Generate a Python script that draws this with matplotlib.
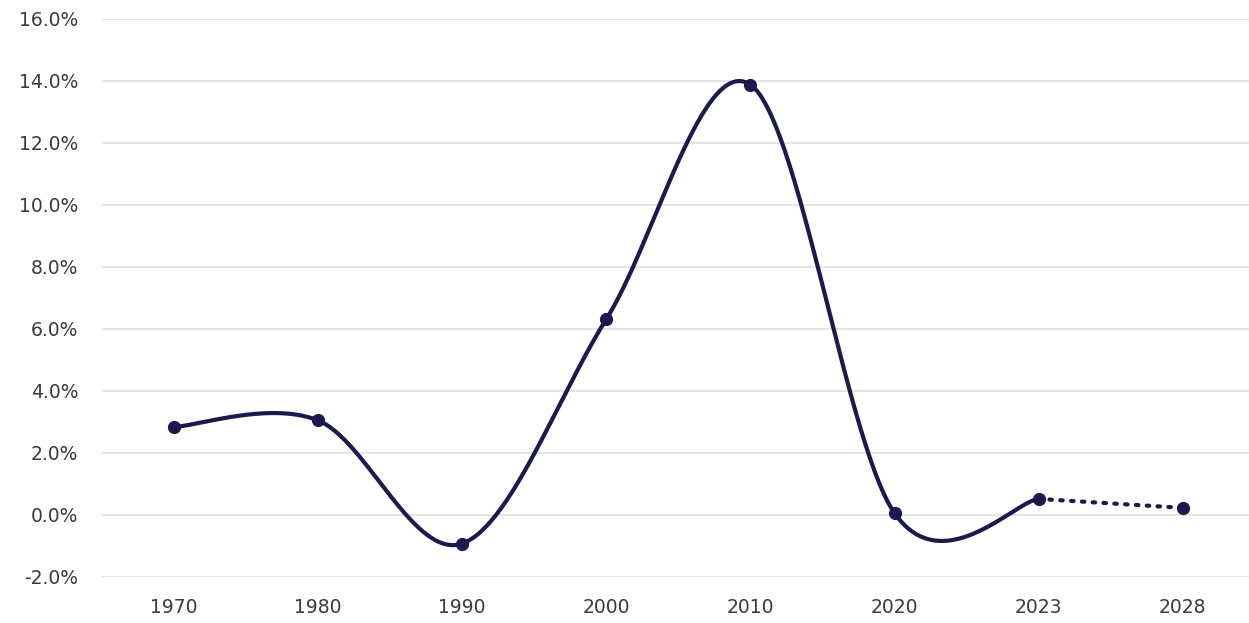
import numpy as np
import matplotlib
matplotlib.use("Agg")
import matplotlib.pyplot as plt

years = ["1970", "1980", "1990", "2000", "2010", "2020", "2023", "2028"]
values = [2.84, 3.05, -0.92, 6.32, 13.88, 0.06, 0.52, 0.23]
n_actual = 7  # 1970..2023 solid, 2023->2028 projection dotted
yticks = [-2, 0, 2, 4, 6, 8, 10, 12, 14, 16]

navy = "#1b1a4e"
plt.rcParams['font.family'] = ['DejaVu Sans']

fig = plt.figure(figsize=(12.49, 6.23), dpi=100)
ax = fig.add_axes([102/1249, 46/623, 1 - 102/1249, (604-46)/623])

x = np.arange(len(years), dtype=float)
y = np.array(values, dtype=float)

# Catmull-Rom smoothing (Excel-like) over the actual segment
def catmull(xp, yp, steps=60, k=1/6):
    xs, ys = [], []
    n = len(xp)
    for i in range(n - 1):
        p0 = (xp[i-1], yp[i-1]) if i > 0 else (xp[i], yp[i])
        p1 = (xp[i], yp[i])
        p2 = (xp[i+1], yp[i+1])
        p3 = (xp[i+2], yp[i+2]) if i + 2 < n else (xp[i+1], yp[i+1])
        t = np.linspace(0, 1, steps)
        c1 = (p1[0] + (p2[0]-p0[0])*k, p1[1] + (p2[1]-p0[1])*k)
        c2 = (p2[0] - (p3[0]-p1[0])*k, p2[1] - (p3[1]-p1[1])*k)
        bx = (1-t)**3*p1[0] + 3*(1-t)**2*t*c1[0] + 3*(1-t)*t**2*c2[0] + t**3*p2[0]
        by = (1-t)**3*p1[1] + 3*(1-t)**2*t*c1[1] + 3*(1-t)*t**2*c2[1] + t**3*p2[1]
        xs.extend(bx); ys.extend(by)
    return np.array(xs), np.array(ys)

sx, sy = catmull(x[:n_actual], y[:n_actual])
ax.plot(sx, sy, color=navy, lw=3.0, solid_capstyle='round', zorder=3)
ax.plot(x[n_actual-1:], y[n_actual-1:], color=navy, lw=3.0, linestyle=(0, (0.6, 2.0)),
        dash_capstyle='round', zorder=3)
ax.plot(x, y, 'o', color=navy, ms=8.5, zorder=4)

ax.set_xlim(-0.5, (1249-174)/144.1)
ax.set_ylim(-2, 16)
ax.set_yticks(yticks)
ax.set_yticklabels([f"{v:.1f}%" for v in yticks])
ax.set_xticks(x)
ax.set_xticklabels(years)
ax.grid(axis='y', color='#e2e2e2', lw=1.3)
ax.set_axisbelow(True)
for s in ax.spines.values():
    s.set_visible(False)
ax.tick_params(axis='both', length=0, labelsize=13.5, colors='#3a3a3a')
ax.tick_params(axis='y', pad=17)
ax.tick_params(axis='x', pad=15)

fig.savefig("out.png", dpi=100, facecolor='white')
